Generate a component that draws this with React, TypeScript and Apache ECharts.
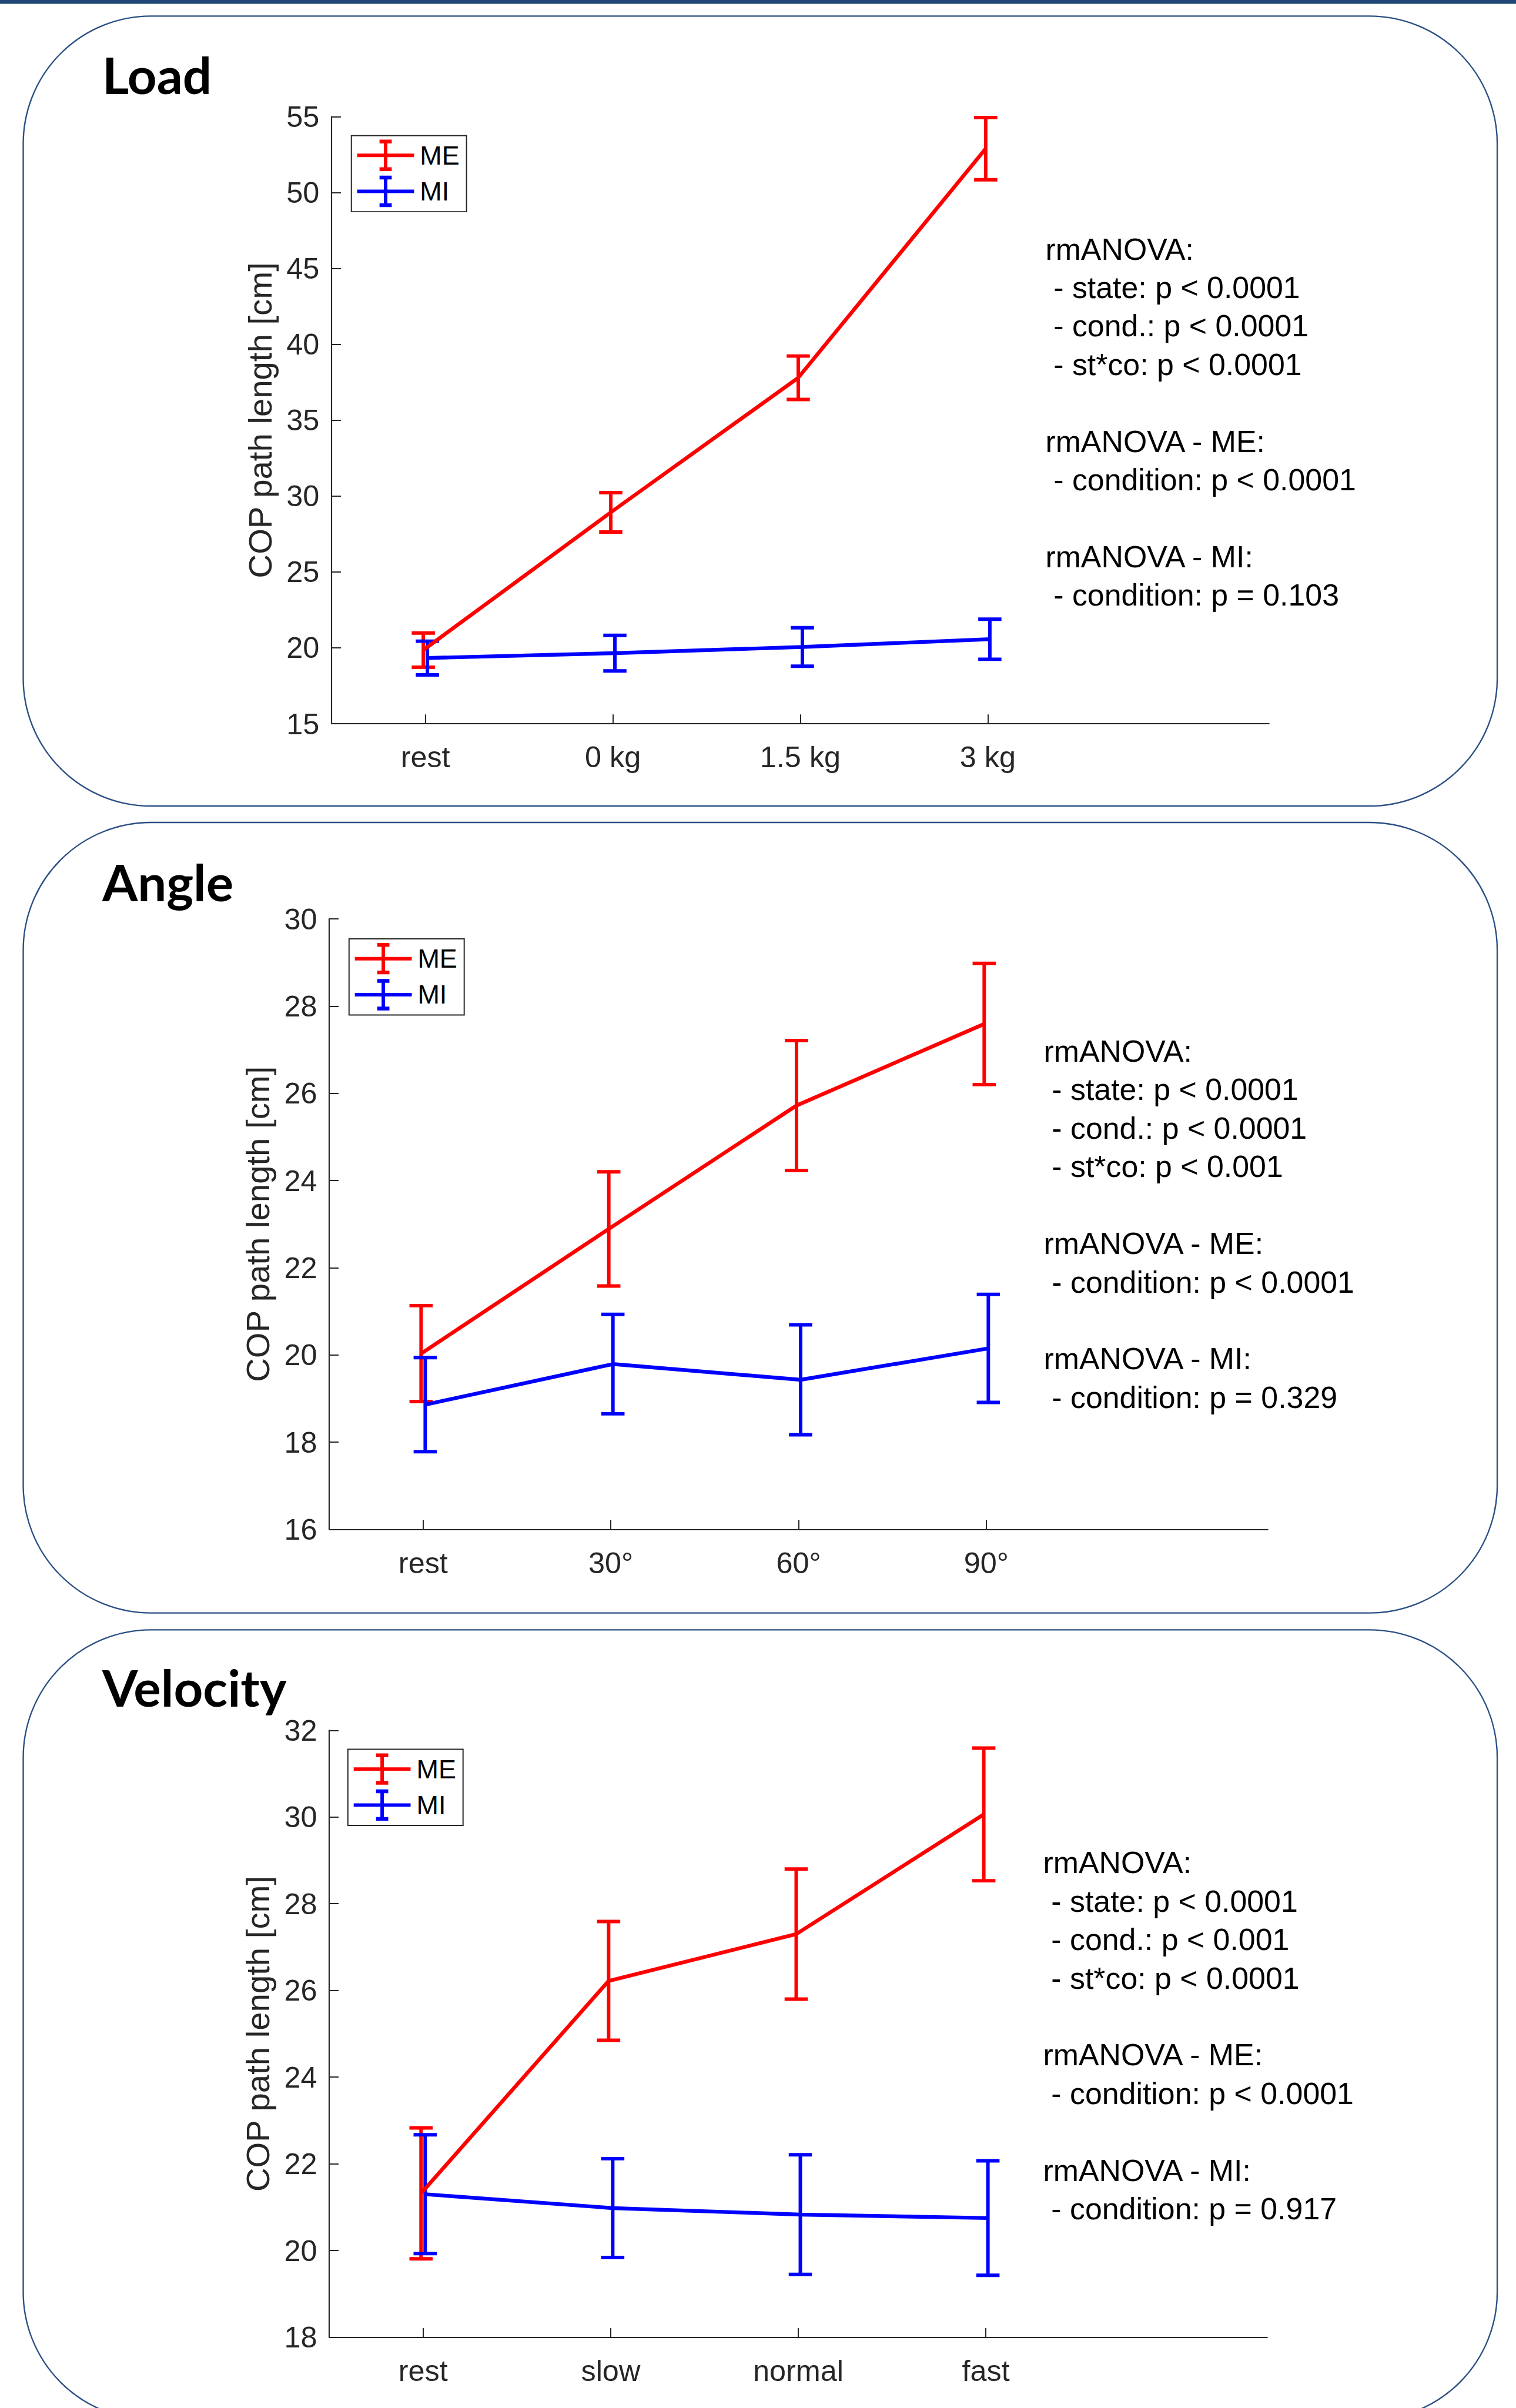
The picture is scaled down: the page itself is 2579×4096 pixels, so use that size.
import React, { useEffect, useRef } from "react";
import * as echarts from "echarts";

// ---------------- data ----------------
const loadCategories = ["rest", "0 kg", "1.5 kg", "3 kg"];
const loadMEMean = [19.85, 28.93, 37.8, 52.9];
const loadMEErr = [1.13, 1.3, 1.43, 2.05];
const loadMIMean = [19.33, 19.65, 20.06, 20.57];
const loadMIErr = [1.11, 1.17, 1.27, 1.32];
const loadYTicks = [15, 20, 25, 30, 35, 40, 45, 50, 55];
const loadStats = [
  "rmANOVA:",
  "- state: p < 0.0001",
  "- cond.: p < 0.0001",
  "- st*co: p < 0.0001",
  "",
  "rmANOVA - ME:",
  "- condition: p < 0.0001",
  "",
  "rmANOVA - MI:",
  "- condition: p = 0.103",
];

const angleCategories = ["rest", "30°", "60°", "90°"];
const angleMEMean = [20.03, 22.89, 25.72, 27.59];
const angleMEErr = [1.1, 1.31, 1.49, 1.39];
const angleMIMean = [18.86, 19.79, 19.43, 20.15];
const angleMIErr = [1.08, 1.14, 1.26, 1.24];
const angleYTicks = [16, 18, 20, 22, 24, 26, 28, 30];
const angleStats = [
  "rmANOVA:",
  "- state: p < 0.0001",
  "- cond.: p < 0.0001",
  "- st*co: p < 0.001",
  "",
  "rmANOVA - ME:",
  "- condition: p < 0.0001",
  "",
  "rmANOVA - MI:",
  "- condition: p = 0.329",
];

const velocityCategories = ["rest", "slow", "normal", "fast"];
const velocityMEMean = [21.32, 26.22, 27.3, 30.06];
const velocityMEErr = [1.51, 1.37, 1.5, 1.53];
const velocityMIMean = [21.3, 20.98, 20.83, 20.75];
const velocityMIErr = [1.37, 1.14, 1.38, 1.32];
const velocityYTicks = [18, 20, 22, 24, 26, 28, 30, 32];
const velocityStats = [
  "rmANOVA:",
  "- state: p < 0.0001",
  "- cond.: p < 0.001",
  "- st*co: p < 0.0001",
  "",
  "rmANOVA - ME:",
  "- condition: p < 0.0001",
  "",
  "rmANOVA - MI:",
  "- condition: p = 0.917",
];

const panelTitles = ["Load", "Angle", "Velocity"];
const seriesNames = ["ME", "MI"];
const yAxisName = "COP path length [cm]";

// ---------------- layout / style ----------------
const S = 0.988;
const W = 2579;
const H = 4096;
const px = (v: number) => v * S;

const RED = "#ff0000";
const BLUE = "#0000ff";
const AXIS = "#262626";
const BORDER = "#2b5083";
const SANS = "'Liberation Sans', Arial, Helvetica, sans-serif";
const JIT = 0.011;

const layouts = [
  { panelY: 27.7, panelH: 1360, gridL: 571, gridR: 2185, gridT: 201, gridB: 1246, titleBase: 162, legendX: 605, legendY: 233.5, statsX: 1800, statsBase: 447 },
  { panelY: 1416, panelH: 1361, gridL: 567, gridR: 2183, gridT: 1582, gridB: 2633, titleBase: 1552, legendX: 601, legendY: 1616.5, statsX: 1797, statsBase: 1828 },
  { panelY: 2806, panelH: 1360, gridL: 567, gridR: 2182, gridT: 2979, gridB: 4024, titleBase: 2938, legendX: 599, legendY: 3011.7, statsX: 1796, statsBase: 3225 },
];

const panels = [
  { cats: loadCategories, me: loadMEMean, meErr: loadMEErr, mi: loadMIMean, miErr: loadMIErr, yTicks: loadYTicks, stats: loadStats },
  { cats: angleCategories, me: angleMEMean, meErr: angleMEErr, mi: angleMIMean, miErr: angleMIErr, yTicks: angleYTicks, stats: angleStats },
  { cats: velocityCategories, me: velocityMEMean, meErr: velocityMEErr, mi: velocityMIMean, miErr: velocityMIErr, yTicks: velocityYTicks, stats: velocityStats },
];

// legend icon: an error-bar cross (98 x 54)
const LEGEND_ICON =
  "path://M0,24H98V30H0Z M46,0H52V54H46Z M38.5,0H59.5V6.5H38.5Z M38.5,47.5H59.5V54H38.5Z";

function errRender(color: string) {
  return (params: any, api: any) => {
    const x = api.value(0);
    const y = api.value(1);
    const e = api.value(2);
    const top = api.coord([x, y + e]);
    const bot = api.coord([x, y - e]);
    const hw = px(20);
    const style = { stroke: color, lineWidth: px(6), fill: null };
    return {
      type: "group",
      children: [
        { type: "line", shape: { x1: top[0], y1: top[1], x2: bot[0], y2: bot[1] }, style },
        { type: "line", shape: { x1: top[0] - hw, y1: top[1], x2: top[0] + hw, y2: top[1] }, style },
        { type: "line", shape: { x1: bot[0] - hw, y1: bot[1], x2: bot[0] + hw, y2: bot[1] }, style },
      ],
    };
  };
}

function buildOption() {
  const grid: any[] = [];
  const xAxis: any[] = [];
  const yAxis: any[] = [];
  const series: any[] = [];
  const legend: any[] = [];
  const graphic: any[] = [];

  graphic.push({
    type: "rect",
    shape: { x: 0, y: 0, width: W, height: px(6.7) },
    style: { fill: "#1f4675" },
  });

  panels.forEach((p, i) => {
    const L = layouts[i];
    grid.push({
      left: px(L.gridL),
      top: px(L.gridT),
      width: px(L.gridR - L.gridL),
      height: px(L.gridB - L.gridT),
      containLabel: false,
      outerBoundsMode: "none",
    });
    const catValues = p.cats.map((_, k) => k + 1);
    xAxis.push({
      type: "value",
      gridIndex: i,
      min: 0.5,
      max: p.cats.length + 1.5,
      splitLine: { show: false },
      axisLine: { show: true, lineStyle: { color: AXIS, width: px(2.2) } },
      axisTick: {
        show: true,
        inside: true,
        length: px(16),
        customValues: catValues,
        lineStyle: { color: AXIS, width: px(2) },
      },
      axisLabel: {
        show: true,
        customValues: catValues,
        margin: px(32),
        fontSize: px(51),
        fontFamily: SANS,
        color: AXIS,
        formatter: (v: number) => p.cats[Math.round(v) - 1] ?? "",
      },
    });
    const yMin = p.yTicks[0];
    const yMax = p.yTicks[p.yTicks.length - 1];
    yAxis.push({
      type: "value",
      gridIndex: i,
      min: yMin,
      max: yMax,
      interval: p.yTicks[1] - p.yTicks[0],
      name: yAxisName,
      nameLocation: "middle",
      nameGap: px(95),
      nameTextStyle: { fontSize: px(57), fontFamily: SANS, color: AXIS },
      splitLine: { show: false },
      axisLine: { show: true, lineStyle: { color: AXIS, width: px(2.2) } },
      axisTick: { show: true, inside: true, length: px(16), lineStyle: { color: AXIS, width: px(2) } },
      axisLabel: {
        show: true,
        showMinLabel: true,
        showMaxLabel: true,
        margin: px(21),
        fontSize: px(51),
        fontFamily: SANS,
        color: AXIS,
      },
    });

    const groups = [
      { name: seriesNames[0], mean: p.me, err: p.meErr, color: RED, off: -JIT },
      { name: seriesNames[1], mean: p.mi, err: p.miErr, color: BLUE, off: JIT },
    ];
    groups.forEach((g) => {
      series.push({
        type: "line",
        name: g.name,
        xAxisIndex: i,
        yAxisIndex: i,
        symbol: "none",
        lineStyle: { color: g.color, width: px(6.5) },
        itemStyle: { color: g.color },
        data: g.mean.map((v, k) => [k + 1 + g.off, v]),
      });
      series.push({
        type: "custom",
        name: g.name,
        xAxisIndex: i,
        yAxisIndex: i,
        itemStyle: { color: g.color },
        encode: { x: 0, y: 1 },
        renderItem: errRender(g.color),
        data: g.mean.map((v, k) => [k + 1 + g.off, v, g.err[k]]),
      });
    });

    legend.push({
      orient: "vertical",
      left: px(L.legendX),
      top: px(L.legendY),
      padding: [px(7), px(12), px(8), px(10)],
      itemWidth: px(98),
      itemHeight: px(54),
      itemGap: px(8),
      selectedMode: false,
      backgroundColor: "#ffffff",
      borderColor: AXIS,
      borderWidth: px(2),
      itemStyle: { borderWidth: 0 },
      textStyle: { fontSize: px(45.5), fontFamily: SANS, color: "#000000", padding: [0, 0, 0, px(5)] },
      data: [
        { name: seriesNames[0], icon: LEGEND_ICON, itemStyle: { color: RED, borderWidth: 0 } },
        { name: seriesNames[1], icon: LEGEND_ICON, itemStyle: { color: BLUE, borderWidth: 0 } },
      ],
    });

    // panel border
    graphic.push({
      type: "rect",
      z: -1,
      shape: { x: px(40), y: px(L.panelY), width: px(2538), height: px(L.panelH), r: px(220) },
      style: { fill: "rgba(0,0,0,0)", stroke: BORDER, lineWidth: px(2.4) },
    });
    // title
    const titleFs = 88;
    graphic.push({
      type: "text",
      x: px(176),
      y: px(L.titleBase - 0.387 * titleFs),
      style: {
        text: panelTitles[i],
        fontFamily: "Lato, 'Open Sans', sans-serif",
        fontWeight: "bold",
        fontSize: px(titleFs),
        fill: "#000000",
        verticalAlign: "middle",
        align: "left",
      },
    });
    // stats text
    const statFs = 52.5;
    p.stats.forEach((line, k) => {
      if (!line) return;
      const indent = line.startsWith("-") ? 14 : 0;
      graphic.push({
        type: "text",
        x: px(L.statsX + indent),
        y: px(L.statsBase + k * 66.2 - 0.3467 * statFs),
        style: {
          text: line,
          fontFamily: SANS,
          fontSize: px(statFs),
          fill: "#000000",
          verticalAlign: "middle",
          align: "left",
        },
      });
    });
  });

  return {
    animation: false,
    backgroundColor: "#ffffff",
    grid,
    xAxis,
    yAxis,
    legend,
    series,
    graphic,
  };
}

export default function App() {
  const ref = useRef<HTMLDivElement>(null);
  useEffect(() => {
    document.body.style.margin = "0";
    document.body.style.overflow = "hidden";
    if (!ref.current) return;
    const chart = echarts.init(ref.current, null, { renderer: "svg", width: W, height: H });
    chart.setOption(buildOption() as any);
    return () => chart.dispose();
  }, []);
  return (
    <div
      ref={ref}
      style={{ position: "absolute", left: 0, top: 0, width: W, height: H, background: "#ffffff" }}
    />
  );
}
